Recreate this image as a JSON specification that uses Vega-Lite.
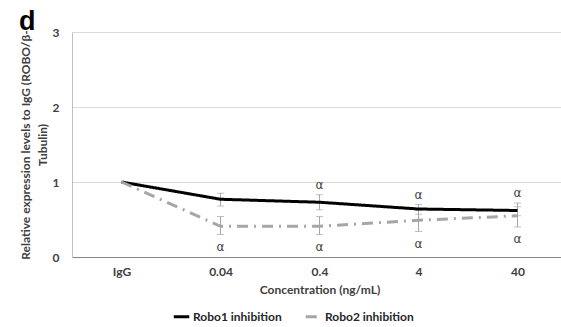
{
  "$schema": "https://vega.github.io/schema/vega-lite/v6.json",
  "autosize": "none",
  "padding": {"left": 72, "top": 32, "right": 0, "bottom": 70},
  "width": 495,
  "height": 225,
  "title": {"text": "d", "anchor": "start", "frame": "bounds", "fontSize": 27, "fontWeight": "bold", "font": "Liberation Sans", "offset": -10, "color": "#000000"},
  "config": {
    "font": "Lato",
    "view": {"stroke": null},
    "axis": {"labelFont": "Lato", "titleFont": "Lato", "labelFontWeight": "bold", "titleFontWeight": "bold", "labelFontSize": 12, "titleFontSize": 12, "labelColor": "#404040", "titleColor": "#404040", "ticks": false},
    "legend": {"labelFont": "Lato", "labelFontWeight": "bold", "labelFontSize": 12, "labelColor": "#262626"}
  },
  "data": {
    "values": [
      {"conc": "IgG", "series": "Robo1 inhibition", "value": 1.0, "low": null, "high": null, "sig": ""},
      {"conc": "0.04", "series": "Robo1 inhibition", "value": 0.77, "low": 0.68, "high": 0.85, "sig": ""},
      {"conc": "0.4", "series": "Robo1 inhibition", "value": 0.73, "low": 0.63, "high": 0.83, "sig": "α"},
      {"conc": "4", "series": "Robo1 inhibition", "value": 0.64, "low": 0.57, "high": 0.70, "sig": "α"},
      {"conc": "40", "series": "Robo1 inhibition", "value": 0.62, "low": 0.55, "high": 0.72, "sig": "α"},
      {"conc": "IgG", "series": "Robo2 inhibition", "value": 1.0, "low": null, "high": null, "sig": ""},
      {"conc": "0.04", "series": "Robo2 inhibition", "value": 0.41, "low": 0.30, "high": 0.54, "sig": "α"},
      {"conc": "0.4", "series": "Robo2 inhibition", "value": 0.41, "low": 0.30, "high": 0.54, "sig": "α"},
      {"conc": "4", "series": "Robo2 inhibition", "value": 0.49, "low": 0.34, "high": 0.62, "sig": "α"},
      {"conc": "40", "series": "Robo2 inhibition", "value": 0.55, "low": 0.40, "high": 0.67, "sig": "α"}
    ]
  },
  "encoding": {
    "x": {"field": "conc", "type": "ordinal", "sort": ["IgG", "0.04", "0.4", "4", "40"], "scale": {"type": "point", "padding": 0.5},
      "axis": {"title": "Concentration (ng/mL)", "labelAngle": 0, "grid": false, "domainColor": "#868686", "domainWidth": 1, "labelPadding": 9, "titlePadding": 7}},
    "y": {"field": "value", "type": "quantitative", "scale": {"domain": [0, 3]},
      "axis": {"title": ["Relative expression levels to IgG (ROBO/β-", "Tubulin)"], "values": [0, 1, 2, 3], "grid": true, "gridColor": "#d9d9d9", "domainColor": "#bfbfbf", "labelPadding": 13, "titlePadding": 3, "titleLineHeight": 17}}
  },
  "layer": [
    {
      "transform": [{"filter": "datum.low != null"}],
      "mark": {"type": "rule", "color": "#a6a6a6", "strokeWidth": 1},
      "encoding": {"y": {"field": "low", "type": "quantitative"}, "y2": {"field": "high"}}
    },
    {
      "transform": [{"filter": "datum.low != null"}],
      "mark": {"type": "tick", "color": "#a6a6a6", "thickness": 1, "size": 7},
      "encoding": {"y": {"field": "low", "type": "quantitative"}}
    },
    {
      "transform": [{"filter": "datum.low != null"}],
      "mark": {"type": "tick", "color": "#a6a6a6", "thickness": 1, "size": 7},
      "encoding": {"y": {"field": "high", "type": "quantitative"}}
    },
    {
      "mark": {"type": "line", "strokeWidth": 3},
      "encoding": {
        "color": {"field": "series", "type": "nominal", "scale": {"domain": ["Robo1 inhibition", "Robo2 inhibition"], "range": ["#000000", "#a6a6a6"]},
          "legend": {"title": null, "orient": "none", "legendX": 100, "legendY": 275, "direction": "horizontal", "symbolType": "stroke", "symbolSize": 240, "symbolStrokeWidth": 3, "columnPadding": 17, "labelOffset": 2}},
        "strokeDash": {"field": "series", "type": "nominal", "scale": {"domain": ["Robo1 inhibition", "Robo2 inhibition"], "range": [[1, 0], [11, 6, 2, 6]]},
          "legend": {"title": null, "orient": "none", "legendX": 100, "legendY": 275, "direction": "horizontal", "symbolType": "stroke", "symbolSize": 240, "symbolStrokeWidth": 3, "columnPadding": 17, "labelOffset": 2}}
      }
    },
    {
      "transform": [{"filter": "datum.series == 'Robo1 inhibition' && datum.sig != ''"}],
      "mark": {"type": "text", "dy": -10, "fontSize": 12, "color": "#404040", "font": "DejaVu Sans", "baseline": "middle"},
      "encoding": {"y": {"field": "high", "type": "quantitative"}, "text": {"field": "sig"}}
    },
    {
      "transform": [{"filter": "datum.series == 'Robo2 inhibition' && datum.sig != ''"}],
      "mark": {"type": "text", "dy": 12, "fontSize": 12, "color": "#404040", "font": "DejaVu Sans", "baseline": "middle"},
      "encoding": {"y": {"field": "low", "type": "quantitative"}, "text": {"field": "sig"}}
    }
  ]
}
